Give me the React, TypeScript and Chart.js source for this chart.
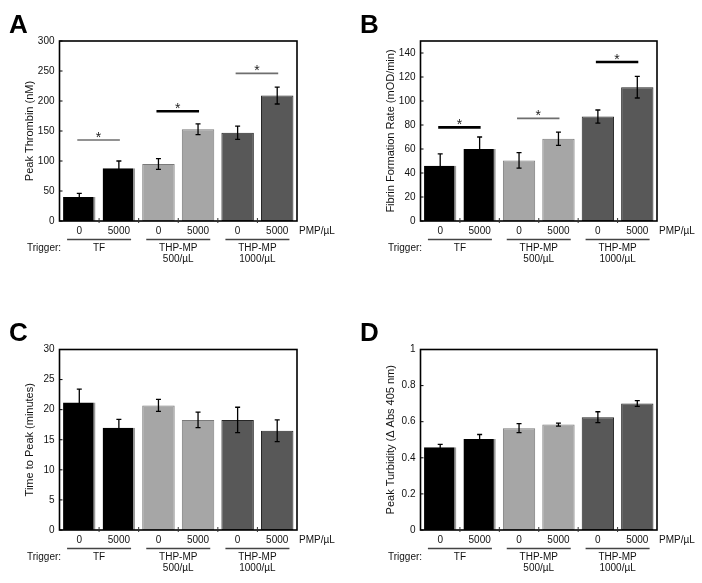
import React, { useEffect, useRef } from 'react';
import { Chart, registerables } from 'chart.js';

Chart.register(...registerables);

// ---------- data ----------
const categories = ['0', '5000', '0', '5000', '0', '5000'];
const groupLabels = [['TF'], ['THP-MP', '500/µL'], ['THP-MP', '1000/µL']];
const unitLabel = 'PMP/µL';
const triggerLabel = 'Trigger:';

const thrombinValues = [40, 88, 95, 153, 147, 209];
const thrombinErrors = [6, 12, 9, 9, 11, 14];
const thrombinSigLevels = [135, 183, 246];
const thrombinSigBold = [false, true, false];
const thrombinTicks = [0, 50, 100, 150, 200, 250, 300];

const fibrinValues = [46, 60, 50.5, 68.5, 87, 111.5];
const fibrinErrors = [10, 10, 6.5, 5.5, 5.5, 9];
const fibrinSigLevels = [78, 85.5, 132.5];
const fibrinSigBold = [true, false, true];
const fibrinTicks = [0, 20, 40, 60, 80, 100, 120, 140];

const timeValues = [21.2, 17.0, 20.7, 18.3, 18.3, 16.5];
const timeErrors = [2.2, 1.4, 1.0, 1.3, 2.1, 1.8];
const timeTicks = [0, 5, 10, 15, 20, 25, 30];

const turbidityValues = [0.459, 0.504, 0.564, 0.584, 0.625, 0.701];
const turbidityErrors = [0.015, 0.025, 0.025, 0.008, 0.03, 0.016];
const turbidityTicks = [0, 0.2, 0.4, 0.6, 0.8, 1];

// ---------- styles ----------
const FONT = '"Liberation Sans", Arial, Helvetica, sans-serif';
const barFill = ['#000000', '#000000', '#a6a6a6', '#a6a6a6', '#585858', '#585858'];
const barEdge = ['#9a9a9a', '#9a9a9a', '#7a7a7a', '#7a7a7a', '#262626', '#262626'];
const barEdgeWidth = [
  { top: 0, left: 0, bottom: 0, right: 2 },
  { top: 0, left: 0, bottom: 0, right: 2 },
  1, 1, 1, 1,
];

type Panel = {
  letter: string;
  title: string;
  values: number[];
  errors: number[];
  ticks: number[];
  min: number;
  max: number;
  sigLevels?: number[];
  sigBold?: boolean[];
  frame: { x: number; y: number; w: number; h: number };
  plot: { left: number; right: number; top: number; bottom: number };
};

const panels: Panel[] = [
  {
    letter: 'A', title: 'Peak Thrombin (nM)', values: thrombinValues, errors: thrombinErrors,
    ticks: thrombinTicks, min: 0, max: 300, sigLevels: thrombinSigLevels, sigBold: thrombinSigBold,
    frame: { x: 0, y: 0, w: 351, h: 300 },
    plot: { left: 59.5, right: 297, top: 41, bottom: 221 },
  },
  {
    letter: 'B', title: 'Fibrin Formation Rate (mOD/min)', values: fibrinValues, errors: fibrinErrors,
    ticks: fibrinTicks, min: 0, max: 150, sigLevels: fibrinSigLevels, sigBold: fibrinSigBold,
    frame: { x: 351, y: 0, w: 351, h: 300 },
    plot: { left: 69.5, right: 306, top: 41, bottom: 221 },
  },
  {
    letter: 'C', title: 'Time to Peak (minutes)', values: timeValues, errors: timeErrors,
    ticks: timeTicks, min: 0, max: 30,
    frame: { x: 0, y: 300, w: 351, h: 283 },
    plot: { left: 59.5, right: 297, top: 49.5, bottom: 230 },
  },
  {
    letter: 'D', title: 'Peak Turbidity (Δ Abs 405 nm)', values: turbidityValues, errors: turbidityErrors,
    ticks: turbidityTicks, min: 0, max: 1,
    frame: { x: 351, y: 300, w: 351, h: 283 },
    plot: { left: 69.5, right: 306, top: 49.5, bottom: 230 },
  },
];

function makeDecor(p: Panel) {
  return {
    id: 'decor' + p.letter,
    afterDatasetsDraw(chart: any) {
      const ctx = chart.ctx as CanvasRenderingContext2D;
      const area = chart.chartArea;
      const ys = chart.scales.y;
      const meta = chart.getDatasetMeta(0);
      const xs: number[] = meta.data.map((b: any) => b.x);

      ctx.save();
      // error bars
      ctx.strokeStyle = '#000';
      ctx.lineWidth = 1.3;
      p.values.forEach((v, i) => {
        const e = p.errors[i];
        const yt = ys.getPixelForValue(v + e);
        const yb = ys.getPixelForValue(v - e);
        const x = xs[i];
        ctx.beginPath();
        ctx.moveTo(x, yt); ctx.lineTo(x, yb);
        ctx.moveTo(x - 2.5, yt); ctx.lineTo(x + 2.5, yt);
        ctx.moveTo(x - 2.5, yb); ctx.lineTo(x + 2.5, yb);
        ctx.stroke();
      });

      // frame
      ctx.lineWidth = 1.6;
      ctx.strokeStyle = '#000';
      ctx.strokeRect(area.left, area.top, area.right - area.left, area.bottom - area.top);

      // inward y ticks
      ctx.lineWidth = 1;
      ys.ticks.forEach((t: any) => {
        const y = ys.getPixelForValue(t.value);
        ctx.beginPath();
        ctx.moveTo(area.left, y); ctx.lineTo(area.left + 3, y);
        ctx.stroke();
      });

      // category boundary ticks
      ctx.strokeStyle = '#333';
      for (let i = 0; i < xs.length - 1; i++) {
        const bx = (xs[i] + xs[i + 1]) / 2;
        ctx.beginPath();
        ctx.moveTo(bx, area.bottom - 3); ctx.lineTo(bx, area.bottom + 2);
        ctx.stroke();
      }

      // significance bars
      if (p.sigLevels) {
        p.sigLevels.forEach((lvl, g) => {
          const y = ys.getPixelForValue(lvl);
          const x1 = xs[g * 2] - 2;
          const x2 = xs[g * 2 + 1] + 1;
          const bold = p.sigBold && p.sigBold[g];
          ctx.strokeStyle = bold ? '#000' : '#6e6e6e';
          ctx.lineWidth = bold ? 2.6 : 1.6;
          ctx.beginPath();
          ctx.moveTo(x1, y); ctx.lineTo(x2, y);
          ctx.stroke();
          ctx.fillStyle = '#222';
          ctx.font = `14px ${FONT}`;
          ctx.textAlign = 'center';
          ctx.textBaseline = 'alphabetic';
          ctx.fillText('*', (x1 + x2) / 2, y + 2);
        });
      }

      // x category labels
      ctx.fillStyle = '#111';
      ctx.font = `10px ${FONT}`;
      ctx.textAlign = 'center';
      ctx.textBaseline = 'middle';
      categories.forEach((c, i) => {
        ctx.fillText(c, xs[i], area.bottom + 10.5);
      });
      ctx.textAlign = 'left';
      ctx.fillText(unitLabel, area.right + 2, area.bottom + 10.5);

      // group lines and labels
      ctx.strokeStyle = '#444';
      ctx.lineWidth = 1.3;
      groupLabels.forEach((lines, g) => {
        const cx = (xs[g * 2] + xs[g * 2 + 1]) / 2;
        ctx.beginPath();
        ctx.moveTo(cx - 32, area.bottom + 18.5);
        ctx.lineTo(cx + 32, area.bottom + 18.5);
        ctx.stroke();
        ctx.textAlign = 'center';
        lines.forEach((ln, k) => {
          ctx.fillText(ln, cx, area.bottom + 27 + k * 11.5);
        });
      });
      ctx.textAlign = 'left';
      ctx.fillText(triggerLabel, area.left - 32.5, area.bottom + 27);

      // y title
      ctx.save();
      ctx.translate(area.left - 29.5, (area.top + area.bottom) / 2);
      ctx.rotate(-Math.PI / 2);
      ctx.textAlign = 'center';
      ctx.textBaseline = 'middle';
      ctx.font = `11px ${FONT}`;
      ctx.fillStyle = '#111';
      ctx.fillText(p.title, 0, 0);
      ctx.restore();

      // panel letter
      ctx.fillStyle = '#000';
      ctx.font = `bold 26px ${FONT}`;
      ctx.textAlign = 'left';
      ctx.textBaseline = 'alphabetic';
      ctx.fillText(p.letter, 9, area.top - 8.5);

      ctx.restore();
    },
  };
}

function PanelChart({ p }: { p: Panel }) {
  const ref = useRef<HTMLCanvasElement | null>(null);
  useEffect(() => {
    if (!ref.current) return;
    const { w, h } = p.frame;
    const chart = new Chart(ref.current, {
      type: 'bar',
      data: {
        labels: categories,
        datasets: [
          {
            data: p.values,
            backgroundColor: barFill,
            borderColor: barEdge,
            borderWidth: barEdgeWidth as any,
            borderSkipped: false,
            barPercentage: 0.82,
            categoryPercentage: 1,
          },
        ],
      },
      options: {
        responsive: false,
        maintainAspectRatio: false,
        animation: false,
        devicePixelRatio: 1,
        layout: {
          padding: {
            left: 0,
            top: p.plot.top,
            right: w - p.plot.right,
            bottom: h - p.plot.bottom,
          },
        },
        plugins: { legend: { display: false }, tooltip: { enabled: false }, title: { display: false } },
        scales: {
          x: { display: false, offset: true },
          y: {
            min: p.min,
            max: p.max,
            grid: { display: false, drawTicks: false },
            border: { display: false },
            afterBuildTicks: (s: any) => {
              s.ticks = p.ticks.map((v) => ({ value: v }));
            },
            afterFit: (s: any) => {
              s.width = p.plot.left;
            },
            ticks: {
              padding: 5,
              color: '#111',
              font: { size: 10, family: FONT },
              callback: (v: any) => String(v),
            },
          },
        },
      },
      plugins: [makeDecor(p)],
    });
    return () => chart.destroy();
  }, [p]);
  return (
    <canvas
      ref={ref}
      width={p.frame.w}
      height={p.frame.h}
      style={{ position: 'absolute', left: p.frame.x, top: p.frame.y, width: p.frame.w, height: p.frame.h }}
    />
  );
}

export default function App() {
  return (
    <div style={{ position: 'absolute', left: 0, top: 0, width: 702, height: 583, background: '#fff', overflow: 'hidden' }}>
      {panels.map((p) => (
        <PanelChart key={p.letter} p={p} />
      ))}
    </div>
  );
}
